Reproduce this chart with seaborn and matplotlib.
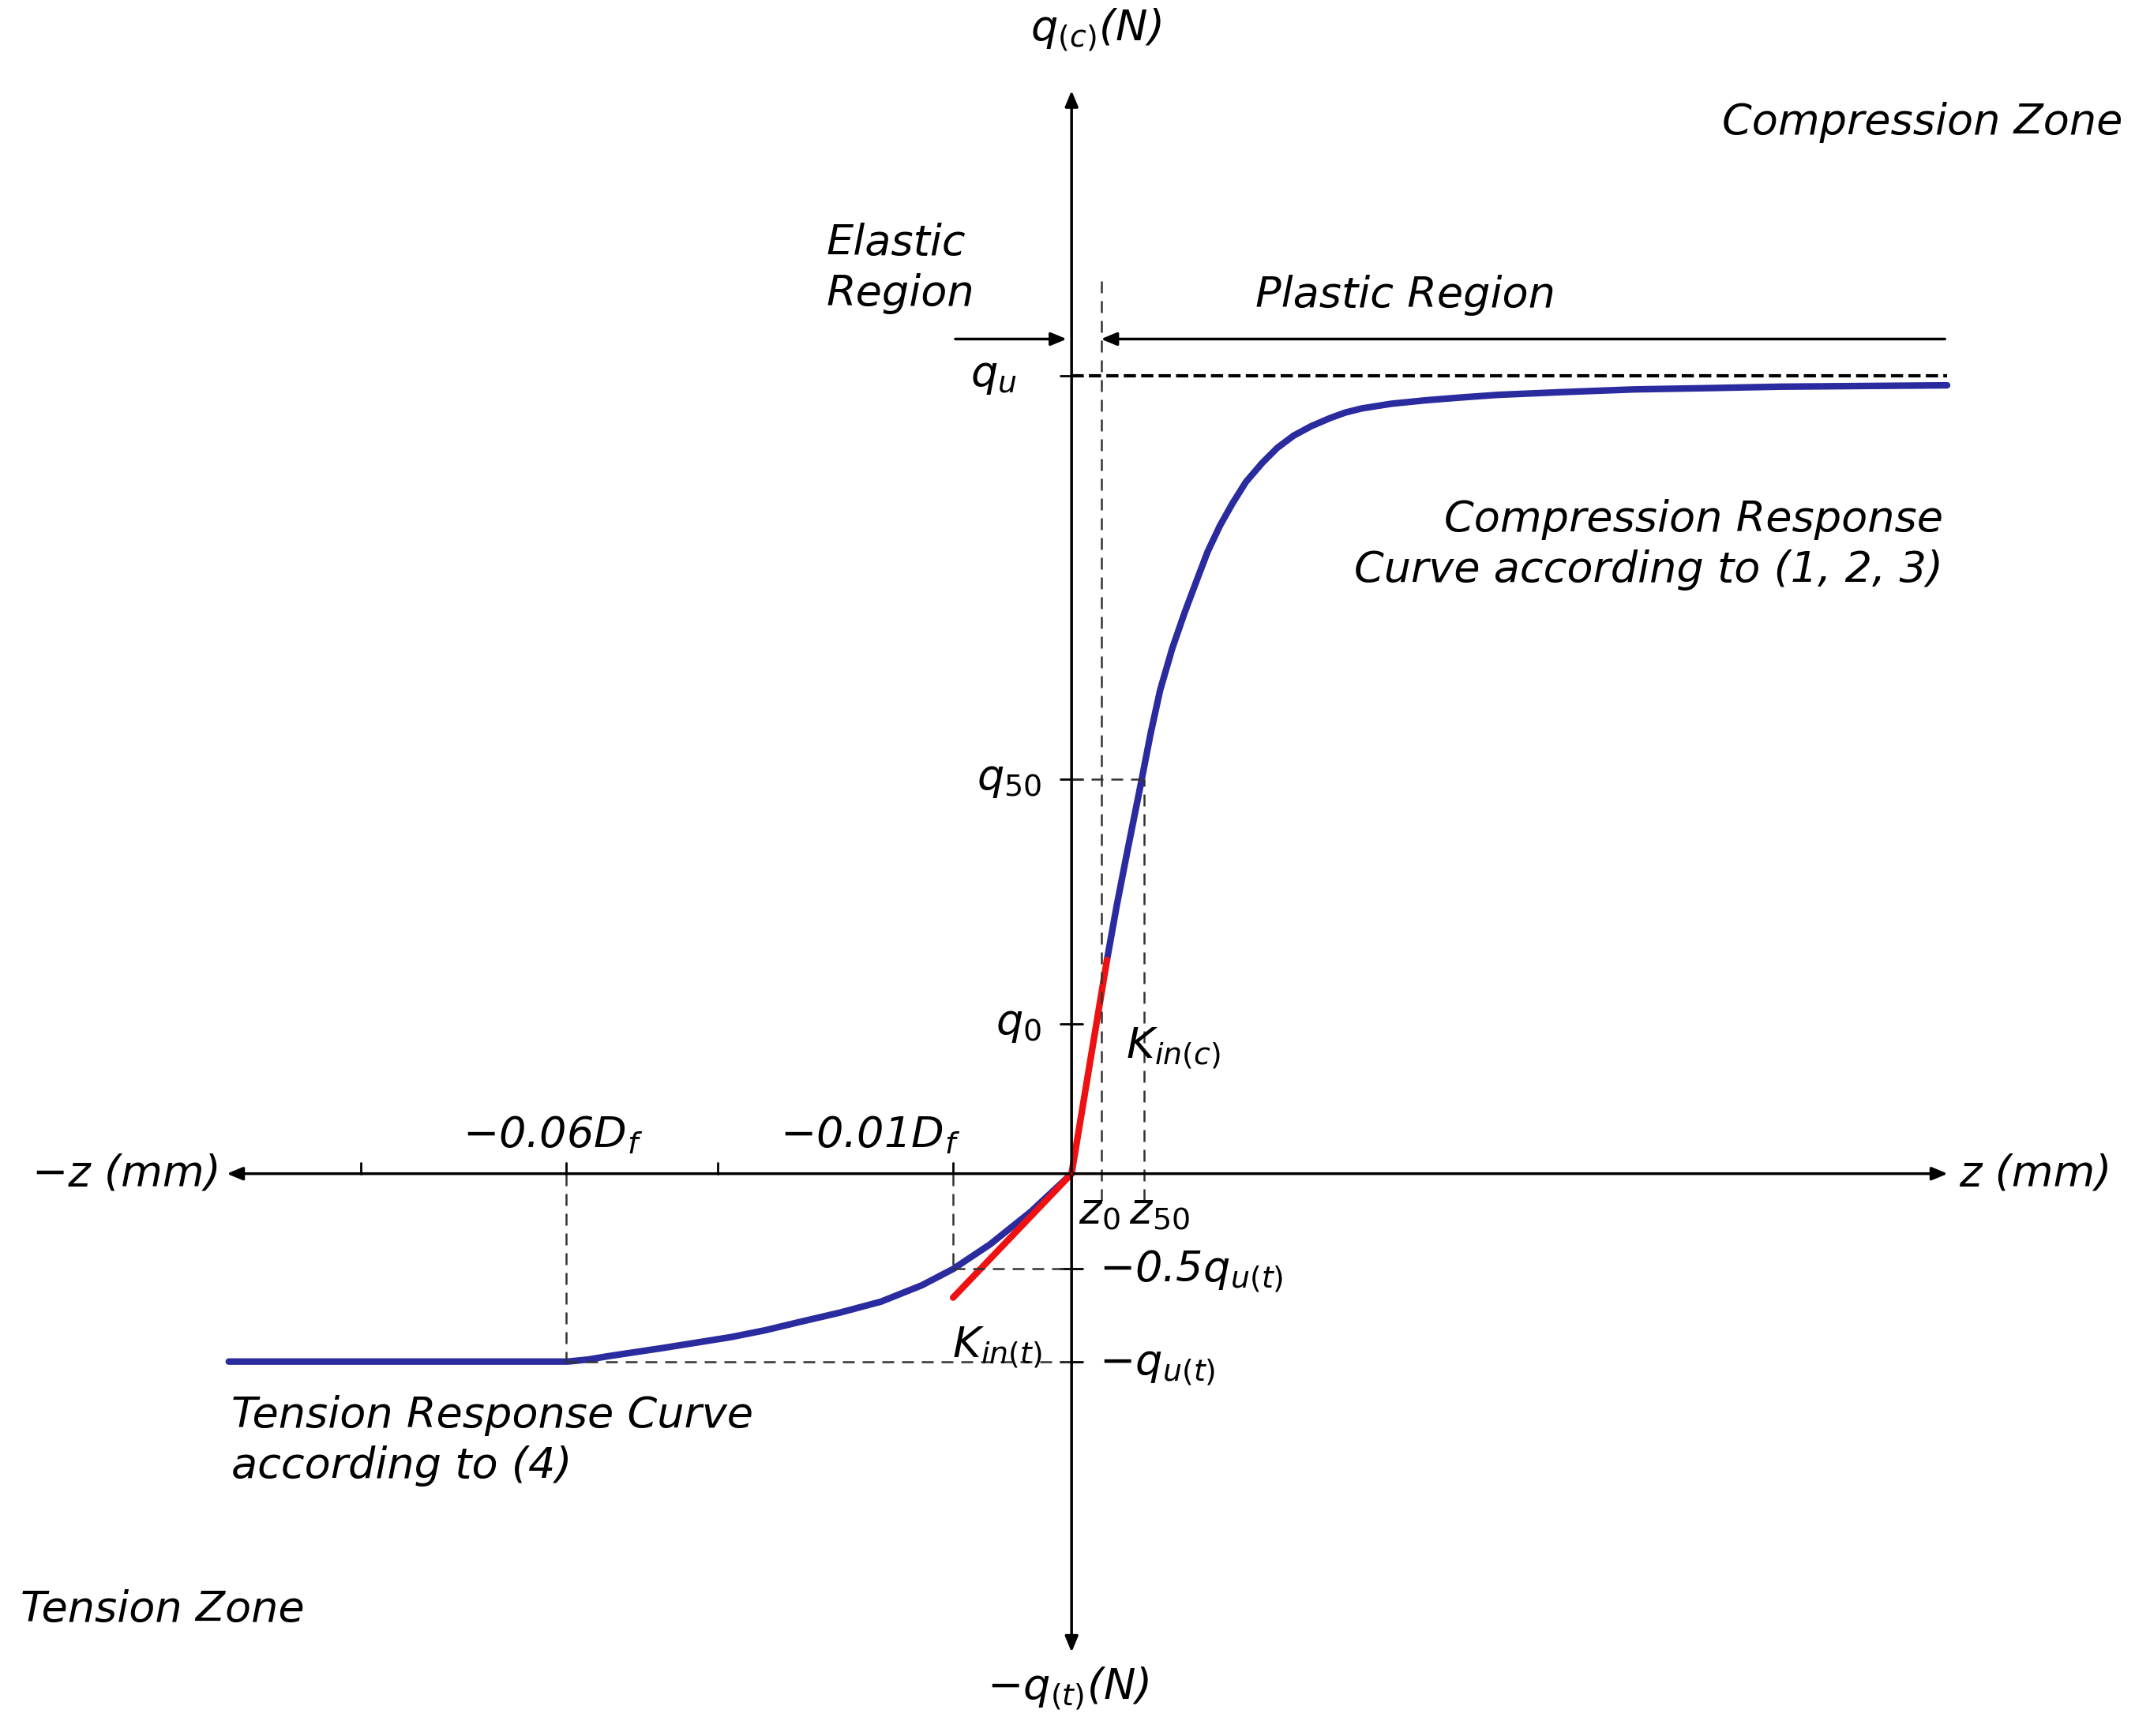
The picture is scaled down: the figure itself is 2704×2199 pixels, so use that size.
import seaborn as sns
import matplotlib.pyplot as plt
import pandas as pd

# Schematic q-z response; units are arbitrary drawing units (origin at axes cross)
comp_x = [26, 33, 40, 46, 51, 58, 65, 74, 83, 92, 100, 109, 118, 128, 140, 151, 163, 176,
          190, 201, 213, 235, 260, 285, 313, 360, 413, 470, 520, 580, 643]
comp_y = [157, 196, 232, 262, 287, 323, 355, 386, 412, 436, 457, 476, 492, 508, 522, 533,
          542, 549, 555, 559, 562, 565.5, 568, 570, 572, 574, 576, 577, 578, 578.5, 579]
elastic_c_x = [0, 26]
elastic_c_y = [0, 157]
tens_x = [0, -15, -30, -45, -60, -75, -87, -110, -140, -170, -200, -225, -250, -275,
          -300, -320, -340, -355, -370, -450, -619]
tens_y = [0, -14, -28, -40, -52, -62, -70, -82, -94, -102, -109, -115, -120, -124,
          -128, -131, -134, -136.5, -138, -138, -138]
elastic_t_x = [0, -87]
elastic_t_y = [0, -91]
qu, q50, q0 = 586, 290, 110
z0, z50 = 22, 53
neg_ticks = [-522, -371, -260, -87]

sns.set_style('white')
fig = plt.figure(figsize=(27.04, 21.99), dpi=100)
ax = fig.add_axes([0, 0, 1, 1])
ax.set_xlim(-787, 781)
ax.set_ylim(-413, 862)
ax.axis('off')

comp = pd.DataFrame({'z': comp_x, 'q': comp_y})
tens = pd.DataFrame({'z': tens_x, 'q': tens_y})
sns.lineplot(data=comp, x='z', y='q', sort=False, color='#2b2ba0', lw=6, ax=ax)
sns.lineplot(data=tens, x='z', y='q', sort=False, color='#2b2ba0', lw=6, ax=ax)
sns.lineplot(x=elastic_c_x, y=elastic_c_y, sort=False, color='#ee1111', lw=6, ax=ax)
sns.lineplot(x=elastic_t_x, y=elastic_t_y, sort=False, color='#ee1111', lw=6, ax=ax)

ap = dict(arrowstyle='-|>,head_length=1.2,head_width=0.5', color='black', lw=2.5)
ax.annotate('', xy=(645, 0), xytext=(0, 0), arrowprops=ap)
ax.annotate('', xy=(-622, 0), xytext=(0, 0), arrowprops=ap)
ax.annotate('', xy=(0, 797), xytext=(0, 0), arrowprops=ap)
ax.annotate('', xy=(0, -353), xytext=(0, 0), arrowprops=ap)
# elastic/plastic region arrows
ax.annotate('', xy=(-2, 613), xytext=(-87, 613), arrowprops=ap)
ax.annotate('', xy=(20, 613), xytext=(643, 613), arrowprops=ap)

for t in neg_ticks:
    ax.plot([t, t], [0, 8], color='black', lw=2)
for t in [qu, q50, q0]:
    ax.plot([-8, 8], [t, t], color='black', lw=2)
ax.plot([-8, 8], [-70, -70], color='black', lw=2)
ax.plot([-8, 8], [-138, -138], color='black', lw=2)

ax.plot([0, 643], [qu, qu], ls='--', color='black', lw=3)
dash = dict(ls=(0, (6, 4)), color='#333333', lw=1.8)
ax.plot([z0, z0], [-20, 660], **dash)
ax.plot([z50, z50], [-20, 290], **dash)
ax.plot([0, z50], [q50, q50], **dash)
ax.plot([-87, -87], [0, -70], **dash)
ax.plot([-87, 0], [-70, -70], **dash)
ax.plot([-371, -371], [0, -138], **dash)
ax.plot([-371, 0], [-138, -138], **dash)

fs = 39
kw = dict(fontsize=fs, style='italic', family='DejaVu Sans', color='black')
ax.text(-30, 840, 'q$_{(c)}$(N)', ha='left', va='center', **kw)
ax.text(-62, -378, '−q$_{(t)}$(N)', ha='left', va='center', **kw)
ax.text(652, 0, 'z (mm)', ha='left', va='center', **kw)
ax.text(-625, 0, '−z (mm)', ha='right', va='center', **kw)
ax.text(772, 772, 'Compression Zone', ha='right', va='center', **kw)
ax.text(-772, -320, 'Tension Zone', ha='left', va='center', **kw)
ax.text(-180, 665, 'Elastic\nRegion', ha='left', va='center', linespacing=1.3, **kw)
ax.text(135, 645, 'Plastic Region', ha='left', va='center', **kw)
ax.text(-40, qu, 'q$_u$', ha='right', va='center', **kw)
ax.text(-22, q50, 'q$_{50}$', ha='right', va='center', **kw)
ax.text(-22, q0, 'q$_0$', ha='right', va='center', **kw)
ax.text(40, 92, 'K$_{in(c)}$', ha='left', va='center', **kw)
ax.text(-22, -128, 'K$_{in(t)}$', ha='right', va='center', **kw)
ax.text(20, -72, '−0.5q$_{u(t)}$', ha='left', va='center', **kw)
ax.text(20, -142, '−q$_{u(t)}$', ha='left', va='center', **kw)
ax.text(5, -28, 'z$_0$', ha='left', va='center', **kw)
ax.text(42, -28, 'z$_{50}$', ha='left', va='center', **kw)
ax.text(-82, 28, '−0.01D$_f$', ha='right', va='center', **kw)
ax.text(-315, 28, '−0.06D$_f$', ha='right', va='center', **kw)
ax.text(640, 462, 'Compression Response\nCurve according to (1, 2, 3)', ha='right',
        va='center', linespacing=1.3, **kw)
ax.text(-617, -196, 'Tension Response Curve\naccording to (4)', ha='left',
        va='center', linespacing=1.3, **kw)

fig.savefig('out.png', dpi=100, facecolor='white')
